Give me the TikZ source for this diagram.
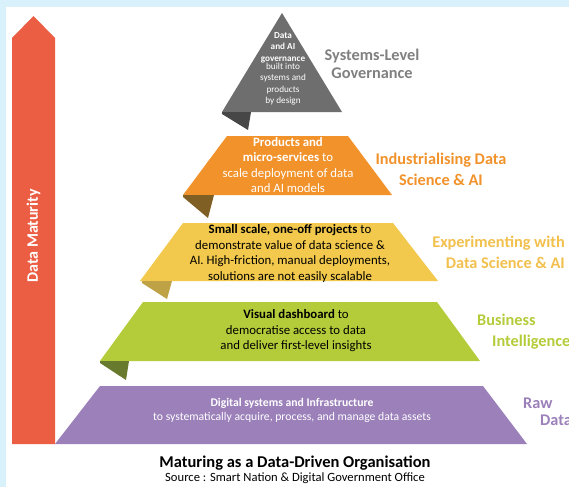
\documentclass[tikz,border=0pt]{standalone}
\usepackage{fontspec}
\setmainfont{Carlito}
\definecolor{bgblue}{HTML}{D9F1FB}
\definecolor{arrowred}{HTML}{EB5E44}
\definecolor{govgray}{HTML}{6E6E6E}
\definecolor{govfold}{HTML}{474747}
\definecolor{govtext}{HTML}{808080}
\definecolor{indorange}{HTML}{F2922A}
\definecolor{indfold}{HTML}{7F5F24}
\definecolor{expyellow}{HTML}{F2C94C}
\definecolor{expfold}{HTML}{BFA245}
\definecolor{explabel}{HTML}{F2C04D}
\definecolor{bigreen}{HTML}{B5CC3A}
\definecolor{bifold}{HTML}{687A2D}
\definecolor{rawpurple}{HTML}{9B80BA}
\begin{document}
\begin{tikzpicture}[x=1pt, y=-1pt,
    tier/.style={align=center, inner sep=0, font=\fontsize{12.8}{15.4}\selectfont},
    level/.style={align=center, inner sep=0, font=\fontsize{16.3}{21}\selectfont\bfseries},
    apex/.style={align=center, inner sep=0, text=white, font=\fontsize{9.2}{11.5}\selectfont}
]
\useasboundingbox (0,0) rectangle (569,487);
\fill[bgblue] (0,0) rectangle (569,487);
\fill[white] (6,7) rectangle (569,487);
\clip (0,0) rectangle (569,487);

% maturity arrow
\fill[arrowred] (12,444) -- (12,38) -- (33.5,16) -- (55,38) -- (55,444) -- cycle;
\node[rotate=90, text=white, font=\fontsize{16}{18}\selectfont\bfseries] (maturity) at (33.5,236) {Data Maturity};

% pyramid tiers with folds
\fill[govgray] (222,112) -- (282,13) -- (342,112) -- cycle;
\fill[govfold] (222,112) -- (251,112) -- (248,130) -- (222,114) -- cycle;
\fill[indorange] (183,195) -- (227,136) -- (348,136) -- (392,195) -- cycle;
\fill[indfold] (183,195) -- (214,195) -- (208,218) -- (183,197) -- cycle;
\fill[expyellow] (140,281) -- (183,223) -- (393,223) -- (438,281) -- cycle;
\fill[expfold] (142,281) -- (172,281) -- (167,299) -- (142,283) -- cycle;
\fill[bigreen] (100,361) -- (143,302) -- (437,302) -- (480,361) -- cycle;
\fill[bifold] (100,361) -- (129,361) -- (126,380) -- (100,363) -- cycle;
\fill[rawpurple] (55,444) -- (100,386) -- (483,386) -- (527,444) -- cycle;

% tier texts
\node[apex] (govtext) at (283,69) {\textbf{Data}\\\textbf{and AI}\\\textbf{governance}\\[-3.5pt]built into\\systems and\\products\\by design};
\node[tier, text=white] (indtext) at (288,165) {\textbf{Products and}\\\textbf{micro-services} to\\scale deployment of data\\and AI models};
\node[tier] (exptext) at (290,253.5) {\textbf{Small scale, one-off projects} to\\demonstrate value of data science \&\\AI. High-friction, manual deployments,\\solutions are not easily scalable};
\node[tier] (bitext) at (296,331) {\textbf{Visual dashboard} to\\democratise access to data\\and deliver first-level insights};
\node[tier, text=white, font=\fontsize{11.7}{13.5}\selectfont] (rawtext) at (292,410.5) {\textbf{Digital systems and Infrastructure}\\to systematically acquire, process, and manage data assets};

% level labels
\node[level, text=govtext, font=\fontsize{16.3}{18}\selectfont\bfseries] (govlabel) at (372,64) {Systems-Level\\Governance};
\node[level, text=indorange] (indlabel) at (441,169) {Industrialising Data\\Science \& AI};
\node[level, text=explabel, align=right, anchor=east] (explabel) at (565,252.5) {Experimenting with\\Data Science \& AI};
\node[level, text=bigreen, anchor=west] (bilabel1) at (477,320) {Business};
\node[level, text=bigreen, anchor=west] (bilabel2) at (492,342) {Intelligence};
\node[level, text=rawpurple, anchor=west] (rawlabel1) at (523,403) {Raw};
\node[level, text=rawpurple, anchor=west] (rawlabel2) at (540,420) {Data};

% caption
\node[font=\fontsize{16.5}{18}\selectfont\bfseries] (title) at (295,463) {Maturing as a Data-Driven Organisation};
\node[font=\fontsize{12.6}{14}\selectfont] (source) at (295,478) {Source : Smart Nation \& Digital Government Office};
\end{tikzpicture}
\end{document}
